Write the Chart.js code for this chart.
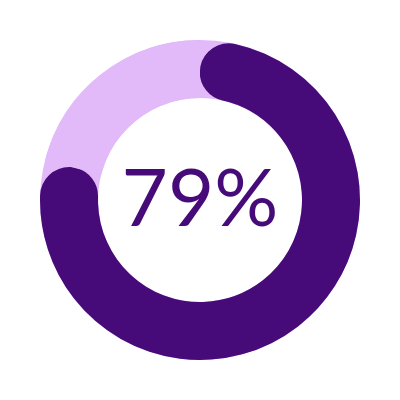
<!DOCTYPE html>
<html>
<head>
<meta charset="utf-8">
<script src="https://cdn.jsdelivr.net/npm/chart.js@4"></script>
<style>
  html, body { margin: 0; padding: 0; background: #fff; }
  #wrap { width: 400px; height: 400px; }
</style>
</head>
<body>
<div id="wrap"><canvas id="donut"></canvas></div>
<script>
// -------------------------------
// Data
// -------------------------------
const labels = ["Yes", "Rest"];
const values = [79, 21];
const centerLabel = "79%";

const DARK = "#460b79";
const LIGHT = "#e2baf9";

// -------------------------------
// Plugins
// -------------------------------
// light track behind the whole ring, so the rounded caps sit on it
const trackPlugin = {
    id: "track",
    beforeDatasetsDraw(chart) {
        const arc = chart.getDatasetMeta(0).data[0];
        if (!arc) return;
        const { x, y, innerRadius, outerRadius } = arc.getProps(["x", "y", "innerRadius", "outerRadius"], true);
        const c = chart.ctx;
        c.save();
        c.beginPath();
        c.arc(x, y, outerRadius, 0, Math.PI * 2);
        c.arc(x, y, innerRadius, Math.PI * 2, 0, true);
        c.closePath();
        c.fillStyle = LIGHT;
        c.fill();
        c.restore();
    }
};

const centerText = {
    id: "centerText",
    afterDraw(chart) {
        const arc = chart.getDatasetMeta(0).data[0];
        const c = chart.ctx;
        c.save();
        c.font = "400 80px Lato";
        c.fillStyle = DARK;
        c.textAlign = "center";
        c.textBaseline = "middle";
        c.fillText(centerLabel, arc.x, arc.y);
        c.restore();
    }
};

// -------------------------------
// Chart.js Setup
// -------------------------------
const ctx = document.getElementById("donut").getContext("2d");
new Chart(ctx, {
    type: "doughnut",
    data: {
        labels: labels,
        datasets: [{
            data: values,
            backgroundColor: [DARK, LIGHT],
            borderWidth: 0,
            borderRadius: c => c.dataIndex === 0 ? 40 : 0
        }]
    },
    options: {
        responsive: true,
        maintainAspectRatio: false,
        animation: false,
        cutout: "63.75%",
        layout: { padding: 40 },
        plugins: {
            legend: { display: false },
            tooltip: { enabled: false }
        }
    },
    plugins: [trackPlugin, centerText]
});
</script>
</body>
</html>
